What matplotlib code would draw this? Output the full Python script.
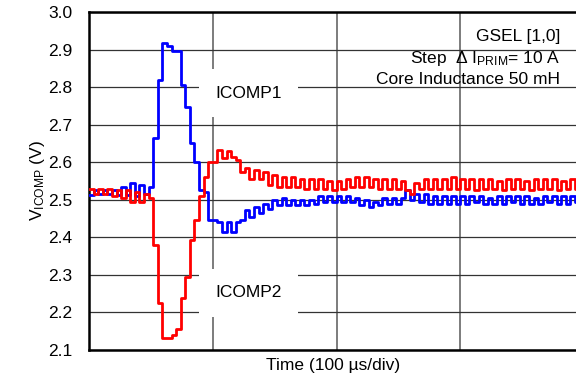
import numpy as np
import matplotlib
matplotlib.use("Agg")
import matplotlib.pyplot as plt

# one sample every 1/27 division, values in volts
SAMPLES_PER_DIV = 27

icomp1 = [
    2.512, 2.525, 2.515, 2.527, 2.515, 2.527, 2.514, 2.535, 2.512, 2.545, 2.51, 2.54, 2.515, 2.535,
    2.665, 2.82, 2.918, 2.91, 2.895, 2.895, 2.805, 2.747, 2.65, 2.60, 2.525, 2.52, 2.445,
    2.445, 2.44, 2.415, 2.44, 2.415, 2.44, 2.447, 2.473, 2.455, 2.48, 2.465, 2.49, 2.475, 2.50,
    2.485, 2.505, 2.485, 2.50, 2.485, 2.50, 2.487, 2.50, 2.49, 2.51, 2.495, 2.51, 2.495, 2.51,
    2.495, 2.51, 2.495, 2.505, 2.485, 2.50, 2.48, 2.495, 2.485, 2.505, 2.49, 2.505, 2.49, 2.505,
    2.525, 2.50, 2.515, 2.495, 2.515, 2.49, 2.51, 2.49, 2.51, 2.49, 2.51, 2.49,
    2.51, 2.49, 2.51, 2.495, 2.51, 2.49, 2.505, 2.49, 2.51, 2.49, 2.51, 2.495, 2.51, 2.49,
    2.51, 2.49, 2.505, 2.49, 2.51, 2.495, 2.51, 2.49, 2.51, 2.49, 2.51, 2.495, 2.51,
]

icomp2 = [
    2.53, 2.515, 2.53, 2.515, 2.53, 2.51, 2.525, 2.505, 2.525, 2.495, 2.52, 2.495, 2.515, 2.505,
    2.38, 2.225, 2.132, 2.132, 2.14, 2.155, 2.238, 2.295, 2.393, 2.447, 2.51, 2.56, 2.60,
    2.60, 2.632, 2.61, 2.63, 2.615, 2.605, 2.575, 2.585, 2.555, 2.58, 2.555, 2.575, 2.54, 2.565,
    2.535, 2.56, 2.535, 2.56, 2.535, 2.555, 2.53, 2.555, 2.53, 2.555, 2.53, 2.55, 2.525, 2.55,
    2.53, 2.555, 2.535, 2.56, 2.535, 2.56, 2.535, 2.555, 2.53, 2.555, 2.53, 2.555, 2.53, 2.55,
    2.525, 2.515, 2.545, 2.53, 2.555, 2.53, 2.555, 2.53, 2.555, 2.53, 2.56, 2.53,
    2.555, 2.53, 2.555, 2.525, 2.555, 2.53, 2.555, 2.53, 2.55, 2.525, 2.555, 2.53, 2.555, 2.53,
    2.55, 2.525, 2.555, 2.53, 2.555, 2.53, 2.555, 2.525, 2.55, 2.53, 2.555, 2.53, 2.555,
]

y_ticks = [2.1, 2.2, 2.3, 2.4, 2.5, 2.6, 2.7, 2.8, 2.9, 3.0]
x_divs = [0, 1, 2, 3, 4]


def main():
    plt.rcParams["font.family"] = ["Liberation Sans", "DejaVu Sans"]
    plt.rcParams["mathtext.fontset"] = "custom"
    plt.rcParams["mathtext.rm"] = "Liberation Sans"
    plt.rcParams["mathtext.it"] = "Liberation Sans"

    fig = plt.figure(figsize=(5.76, 3.77), dpi=100)
    ax = fig.add_axes([89 / 576, 27 / 377, 495 / 576, 338 / 377])

    t1 = np.arange(len(icomp1)) / SAMPLES_PER_DIV
    t2 = np.arange(len(icomp2)) / SAMPLES_PER_DIV

    ax.step(t1, icomp1, where="post", color="#0000ff", lw=2.0, zorder=3,
            solid_joinstyle="round")
    ax.step(t2, icomp2, where="post", color="#ff0000", lw=2.0, zorder=3,
            solid_joinstyle="round")

    ax.set_xlim(x_divs[0], x_divs[-1])
    ax.set_ylim(y_ticks[0], y_ticks[-1])
    ax.set_yticks(y_ticks)
    ax.set_yticklabels(["%.1f" % v for v in y_ticks])
    ax.set_xticks(x_divs[1:-1])
    ax.set_xticklabels([])
    ax.tick_params(length=0, labelsize=12.5, pad=12)

    ax.set_axisbelow(True)
    ax.grid(axis="y", color="#333333", lw=0.9)
    ax.grid(axis="x", color="#666666", lw=1.2)
    for side in ["left", "bottom", "top"]:
        ax.spines[side].set_linewidth(1.8)
    ax.spines["right"].set_visible(False)

    ax.set_ylabel(r"V$_{\mathregular{ICOMP}}$ (V)", fontsize=12.5, labelpad=1)
    ax.set_xlabel("Time (100 \u00b5s/div)", fontsize=12.5)
    ax.xaxis.set_label_coords(244 / 495, -0.025)

    box = dict(boxstyle="square,pad=0.95", facecolor="white", edgecolor="none")
    ax.text(1.29, 2.784, "ICOMP1", fontsize=12.5, ha="center", va="center",
            bbox=box, zorder=2)
    ax.text(1.29, 2.252, "ICOMP2", fontsize=12.5, ha="center", va="center",
            bbox=box, zorder=2)

    note = "GSEL [1,0]\nStep  $\\Delta$ I$_{\\mathregular{PRIM}}$= 10 A\nCore Inductance 50 mH"
    fig.text(560 / 576, 1 - 29 / 377, note, fontsize=12.5, ha="right", va="top",
             linespacing=1.35)

    fig.savefig("out.png", dpi=100)


if __name__ == "__main__":
    main()
